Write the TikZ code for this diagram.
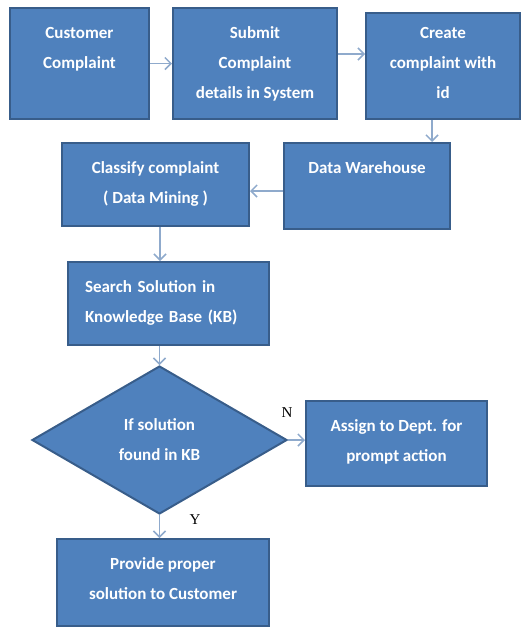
\documentclass[tikz,border=0pt]{standalone}
\usepackage{fontspec}
\setmainfont{Carlito}
\newfontfamily\yesno{Liberation Serif}
\usetikzlibrary{arrows.meta,shapes.geometric}
\definecolor{boxfill}{HTML}{4F81BD}
\definecolor{boxline}{HTML}{385D8A}
\definecolor{flow}{HTML}{8FAACC}

\begin{document}
\begin{tikzpicture}[x=1pt,y=-1pt,
		box/.style={draw=boxline, line width=2pt, fill=boxfill, text=white, align=center,
			font=\bfseries\fontsize{17}{30}\selectfont, inner xsep=4pt, inner ysep=12pt,
			anchor=north},
		decide/.style={diamond, draw=boxline, line width=2pt, fill=boxfill, text=white,
			align=center, font=\bfseries\fontsize{17}{30}\selectfont, inner sep=0pt},
		flowline/.style={draw=flow, line width=1.5pt, -{Straight Barb[length=6pt,width=12pt]}},
		yn/.style={font=\yesno\fontsize{15}{15}\selectfont}]
		\useasboundingbox (0,0) rectangle (521,627);
		% top row
		\node[box, minimum width=139pt, text height=48pt, text depth=39pt] (cust) at (79.5,7) {Customer\\Complaint};
		\node[box, minimum width=164pt, text height=78pt, text depth=9pt] (sub) at (255,7) {Submit\\Complaint\\details in System};
		\node[box, minimum width=154pt, text height=73pt, text depth=9pt] (crt) at (443,12) {Create\\complaint with\\id};
		% second row
		\node[box, minimum width=166pt, text height=18pt, text depth=44pt] (dw) at (367,142) {Data Warehouse};
		\node[box, minimum width=187pt, text height=48pt, text depth=11pt] (cls) at (155.5,142) {Classify complaint\\( Data Mining )};
		% search and decision
		\node[box, align=left, text width=167pt, inner xsep=17pt, text height=18pt, text depth=41pt] (srch) at (168.5,261)
			{Search Solution in\\Knowledge Base (KB)};
		\node[decide, minimum width=255pt, minimum height=148pt] (dec) at (159.5,440) {If solution\\found in KB};
		\node[box, minimum width=181pt, text height=48pt, text depth=13pt] (asg) at (396.5,400) {Assign to Dept. for\\prompt action};
		\node[box, minimum width=212pt, text height=48pt, text depth=15pt] (prov) at (163,538) {Provide proper\\solution to Customer};
		\node[yn] (lbln) at (287,413) {N};
		\node[yn] (lbly) at (195,520) {Y};

		\draw[flowline] (cust.east) -- (cust.east -| sub.west);
		\draw[flowline] ([yshift=9.5pt]sub.east) -- ([yshift=9.5pt]sub.east -| crt.west);
		\draw[flowline] ([xshift=-11pt]crt.south) -- ([xshift=-11pt]crt.south |- dw.north);
		\draw[flowline] ([yshift=-5pt]dw.west) -- ([yshift=-5pt]dw.west -| cls.east);
		\draw[flowline] ([xshift=4.5pt]cls.south) -- ([xshift=4.5pt]cls.south |- srch.north);
		\draw[flowline] (dec.north |- srch.south) -- (dec.north);
		\draw[flowline] (dec.east) -- (dec.east -| asg.west);
		\draw[flowline] (dec.south) -- (dec.south |- prov.north);
\end{tikzpicture}
\end{document}
